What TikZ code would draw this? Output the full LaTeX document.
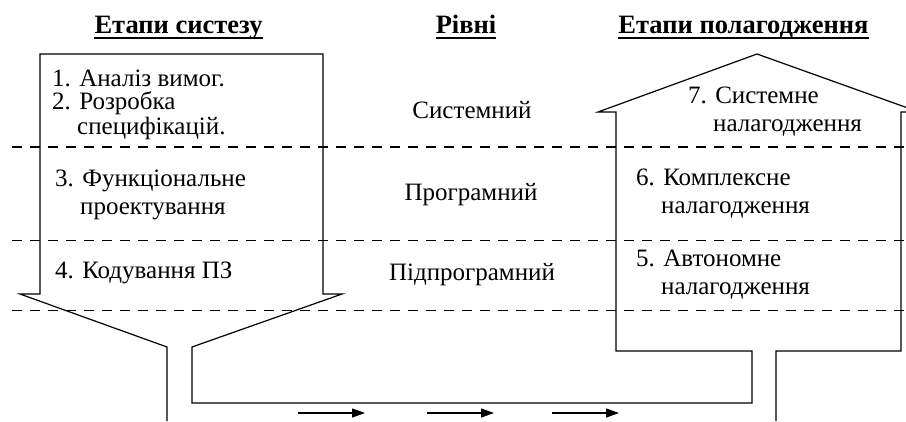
\documentclass[tikz,border=0pt]{standalone}
\usepackage{fontspec}
\setmainfont{Liberation Serif}
\usetikzlibrary{arrows.meta}
\tikzset{
  txt/.style={font=\fontsize{25}{28}\selectfont, align=left, inner sep=0pt, anchor=west},
  lvl/.style={font=\fontsize{25}{28}\selectfont, inner sep=0pt},
  hdr/.style={font=\fontsize{26.5}{30}\selectfont\bfseries, inner sep=0pt, text depth=5pt, anchor=base},
  uline/.style={line width=1.8pt},
  outl/.style={line width=1.2pt, line join=miter},
  sepmain/.style={line width=2.4pt, dash pattern=on 10pt off 8pt},
  sepsub/.style={line width=0.9pt, dash pattern=on 10pt off 8pt},
  flow/.style={-{Triangle[length=13pt,width=9pt]}, line width=1.3pt},
}
\newcommand{\hang}{\phantom{0.~}}

\begin{document}
\begin{tikzpicture}[x=1pt,y=-1pt]
\useasboundingbox (0,0) rectangle (906,421);

% level separators
\draw[sepmain] (12,147) -- (906,147);
\draw[sepsub] (12,240.5) -- (906,240.5);
\draw[sepsub] (12,310.5) -- (906,310.5);

% synthesis arrow, feedback path and debugging box
\draw[outl] (167,421) -- (167,347) -- (20,294) -- (40,294) -- (40,54)
  -- (323,54) -- (323,294) -- (342,294) -- (192,347) -- (192,403)
  -- (752,403) -- (752,351) -- (616,351) -- (616,112) -- (598,112)
  -- (757,54) -- (919,112) -- (901,112) -- (901,351) -- (776,351) -- (776,421);

% direction of the flow
\foreach \xa in {298,427,552}
  \draw[flow] (\xa,413) -- ++(67,0);

% headers
\node[hdr] (hsyn) at (178.5,33) {Етапи систезу};
\node[hdr] (hlev) at (466,33) {Рівні};
\node[hdr] (hdbg) at (743.5,33) {Етапи полагодження};
\foreach \h in {hsyn,hlev,hdbg}
  \draw[uline] (\h.south west) -- (\h.south east);

% synthesis stages
\node[txt] (s1) at (52,78) {1. Аналіз вимог.};
\node[txt, font=\fontsize{25}{25}\selectfont] (s2) at (52,116) {2. Розробка\\\hang специфікацій.};
\node[txt] (s3) at (55,195) {3. Функціональне\\\hang проектування};
\node[txt] (s4) at (55,273) {4. Кодування ПЗ};

% levels
\node[lvl] (lsys) at (472,110) {Системний};
\node[lvl] (lprog) at (471,195) {Програмний};
\node[lvl] (lsub) at (472,275) {Підпрограмний};

% debugging stages
\node[txt] (d7) at (688,111.5) {7. Системне\\\hang налагодження};
\node[txt] (d6) at (636,194) {6. Комплексне\\\hang налагодження};
\node[txt] (d5) at (636,274.5) {5. Автономне\\\hang налагодження};
\end{tikzpicture}
\end{document}
